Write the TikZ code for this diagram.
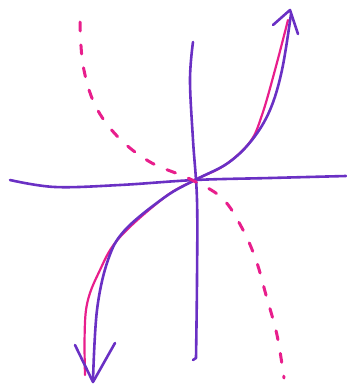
\documentclass[tikz,border=0pt]{standalone}
\definecolor{pen}{RGB}{106,48,196}
\definecolor{mag}{RGB}{232,30,140}
\tikzset{
  purp/.style={draw=pen, line width=2.6pt, line cap=round, line join=round},
  magl/.style={draw=mag, line width=2.2pt, line cap=round, line join=round},
  magd/.style={draw=mag, line width=3pt, line cap=round, dash pattern=on 9pt off 14pt}
}
\begin{document}
\begin{tikzpicture}[x=1pt,y=-1pt]
\useasboundingbox (0,0) rectangle (347,391);
% axes
\draw[purp] plot[smooth, tension=0.6] coordinates {(10,180) (55,187) (120,185) (195,180) (270,178) (346,176)};
\draw[purp] plot[smooth, tension=0.6] coordinates {(193,42) (190,80) (193,140) (197,200) (197,280) (196,358)} -- (193,360);
% magenta curve
\draw[magl] plot[smooth, tension=0.6] coordinates {(85,375) (86,310) (100,270) (120,237) (165,197) (195,180) (225,165) (250,142) (262,115) (275,70) (288,20)};
% purple curve
\draw[purp] plot[smooth, tension=0.6] coordinates {(93,380) (97,310) (108,260) (125,230) (165,197) (195,180) (228,163) (252,140) (270,110) (282,70) (291,14)};
% arrowheads
\draw[purp] (273,25) -- (290,10) -- (298,34);
\draw[purp] (75,345) -- (93,382) -- (115,343);
% dashed curve
\draw[magd] plot[smooth, tension=0.6] coordinates {(80,22) (83,65) (95,105) (118,137) (150,162) (190,179) (222,198) (242,228) (256,260) (266,295) (277,335) (284,378)};
\end{tikzpicture}
\end{document}
